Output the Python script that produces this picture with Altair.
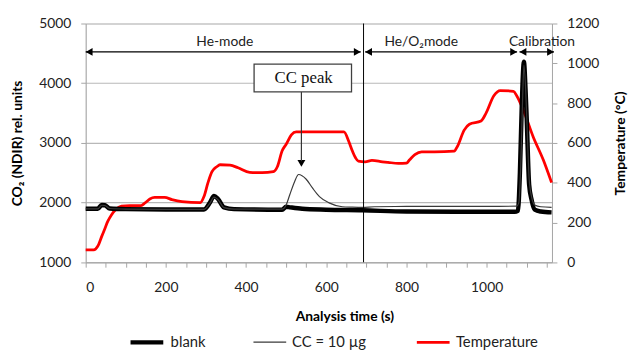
import altair as alt
import pandas as pd

# ---------------- data ----------------
blank_t = [0, 30, 40, 48, 60, 100, 200, 295, 310, 320, 330, 345, 370, 490, 500, 510, 540, 600, 690, 800,
           1000, 1070, 1078, 1083, 1088, 1093, 1097, 1100, 1106, 1112, 1120, 1135, 1162]
blank_v = [1895, 1895, 1960, 1955, 1900, 1890, 1885, 1885, 2000, 2110, 2060, 1920, 1890, 1880, 1930, 1920, 1895, 1880, 1870, 1850,
           1845, 1845, 1860, 2500, 3700, 4360, 3900, 3400, 2300, 2050, 1880, 1850, 1835]

cc_t = [0, 30, 40, 48, 60, 100, 200, 295, 310, 320, 330, 345, 370, 490, 500, 509, 521, 531, 550, 566, 583, 607, 640,
        665, 690, 720, 800, 1000, 1075, 1080, 1085, 1090, 1093, 1097, 1100, 1106, 1112, 1120, 1135, 1162]
cc_v = [1895, 1895, 1955, 1950, 1900, 1890, 1885, 1885, 1990, 2090, 2050, 1915, 1890, 1890, 1960, 2130, 2350, 2470, 2390, 2240, 2100, 1995, 1930,
        1922, 1918, 1930, 1935, 1935, 1940, 1990, 2600, 3800, 4300, 3950, 3450, 2400, 2100, 1960, 1930, 1920]

temp_t = [0, 20, 30, 40, 48, 55, 65, 75, 89, 110, 138, 148, 160, 172, 197, 215, 240, 286, 295, 305, 315, 327, 335,
          360, 380, 409, 440, 468, 478, 490, 500, 513, 525, 644, 656, 665, 673, 680, 697, 714, 740, 754, 780, 800,
          808, 821, 838, 870, 919, 927, 944, 957, 986, 998, 1018, 1034, 1067, 1075, 1092, 1116, 1141, 1162]
temp_v = [62, 62, 80, 130, 170, 205, 240, 265, 282, 285, 285, 298, 318, 326, 326, 315, 305, 300, 330, 400, 455, 480, 490,
          488, 475, 452, 450, 455, 480, 560, 593, 640, 655, 655, 608, 560, 525, 508, 505, 512, 505, 502, 497, 498,
          515, 541, 555, 555, 558, 582, 664, 694, 710, 747, 837, 863, 859, 837, 763, 631, 516, 400]

series_names = ["blank", "CC = 10 µg", "Temperature"]
series_colors = ["#000000", "#3a3a3a", "#ff0000"]
series_widths = [4.5, 1.2, 2.8]

# annotations (time in s, CO2 units)
mode_labels = ["He-mode", "He/O₂mode", "Calibration"]
mode_label_t = [347, 837, 1138]
mode_start = [0, 697, 1082]
mode_end = [686, 1076, 1168]
arrow_level = 4524
label_level = 4694
switch_time = [693]
box_t = [420, 663]
box_v = [3855, 4318]
peak_time = 538
peak_tip = 2600

FONT = "Lato"

# ---------------- tables ----------------
co2 = pd.concat([
    pd.DataFrame({"time": blank_t, "co2": blank_v, "series": series_names[0], "order": 2}),
    pd.DataFrame({"time": cc_t, "co2": cc_v, "series": series_names[1], "order": 1}),
])
temp = pd.DataFrame({"time": temp_t, "temp": temp_v, "series": series_names[2]})

arrows = pd.DataFrame({"time": mode_start, "time2": mode_end, "co2": arrow_level})
heads = pd.DataFrame({
    "time": [mode_start[0] + 8.6, mode_end[0] - 8.6, mode_start[1] + 8.6, mode_end[1] - 8.6,
             mode_start[2] + 8.6, mode_end[2] - 8.6, peak_time],
    "co2": [arrow_level] * 6 + [peak_tip + 57],
    "shape": ["triangle-left", "triangle-right"] * 3 + ["triangle-down"],
})
labels = pd.DataFrame({"time": mode_label_t, "co2": label_level, "text": mode_labels})
switch = pd.DataFrame({"time": switch_time})
box = pd.DataFrame({"time": [box_t[0]], "time2": [box_t[1]], "co2": [box_v[0]], "co2b": [box_v[1]]})
box_text = pd.DataFrame({"time": [(box_t[0] + box_t[1]) / 2 + 2], "co2": [(box_v[0] + box_v[1]) / 2], "text": ["CC peak"]})
leader = pd.DataFrame({"time": [peak_time], "co2": [box_v[0]], "co2b": [peak_tip + 90]})

# ---------------- encodings ----------------
x_enc = alt.X("time:Q", scale=alt.Scale(domain=[0, 1163], nice=False, zero=False),
              axis=alt.Axis(values=list(range(0, 1151, 50)), format="d",
                            labelExpr="datum.value % 200 == 0 ? datum.label : ''",
                            grid=False, domainColor="#a6a6a6", tickColor="#a6a6a6", tickSize=5,
                            labelPadding=14, labelFontSize=14, labelColor="#222222", labelFont=FONT,
                            title="Analysis time (s)", titleFont=FONT, titleFontSize=14, titleFontWeight="bold",
                            titleColor="#000000", titleX=262, titleY=55, titleBaseline="middle"))
y_co2 = alt.Y("co2:Q", scale=alt.Scale(domain=[1000, 5000], nice=False, zero=False),
              axis=alt.Axis(orient="left", values=[1000, 2000, 3000, 4000, 5000], format="d", grid=True,
                            gridColor="#b8b8b8", gridWidth=1.2, domainColor="#a6a6a6", tickColor="#a6a6a6",
                            tickSize=5, labelPadding=10, labelFontSize=14, labelColor="#222222", labelFont=FONT,
                            title="CO₂ (NDIR) rel. units", titleFont=FONT, titleFontSize=14,
                            titleFontWeight="bold", titleColor="#000000", titleX=-68.7, titleY=121,
                            titleAngle=270, titleBaseline="middle", titleAlign="center"))
y_temp = alt.Y("temp:Q", scale=alt.Scale(domain=[0, 1200], nice=False, zero=False),
               axis=alt.Axis(orient="right", values=list(range(0, 1201, 200)), format="d", grid=False,
                             domainColor="#a6a6a6", tickColor="#a6a6a6", tickSize=5, labelPadding=10,
                             labelFontSize=14, labelColor="#222222", labelFont=FONT,
                             title="Temperature (°C)", titleFont=FONT, titleFontSize=14,
                             titleFontWeight="bold", titleColor="#000000", titleX=69, titleY=121,
                             titleAngle=270, titleBaseline="middle", titleAlign="center"))

legend = alt.Legend(title=None, orient="none", legendX=43, legendY=304, direction="horizontal",
                    symbolType="stroke", symbolSize=1100, labelFont=FONT, labelFontSize=15,
                    labelColor="#222222", columnPadding=45, labelOffset=5, padding=0)
color_enc = alt.Color("series:N", scale=alt.Scale(domain=series_names, range=series_colors), legend=legend)
width_enc = alt.StrokeWidth("series:N",
                            scale=alt.Scale(type="ordinal", domain=series_names, range=series_widths),
                            legend=legend)

# ---------------- layers ----------------
temp_line = alt.Chart(temp).mark_line(interpolate="monotone").encode(
    x=x_enc, y=y_temp, color=color_enc, strokeWidth=width_enc)

co2_lines = alt.Chart(co2).mark_line(interpolate="monotone").encode(
    x=x_enc, y=y_co2, color=color_enc, strokeWidth=width_enc, order="order:Q",
    detail="series:N")

arrow_rules = alt.Chart(arrows).mark_rule(color="black", strokeWidth=1.2).encode(
    x=x_enc, x2="time2:Q", y=y_co2)
arrow_heads = alt.Chart(heads).mark_point(filled=True, color="black", size=64, opacity=1).encode(
    x=x_enc, y=y_co2, shape=alt.Shape("shape:N", scale=None, legend=None))
mode_text = alt.Chart(labels).mark_text(font=FONT, fontSize=14, color="#222222", baseline="middle").encode(
    x=x_enc, y=y_co2, text="text:N")
switch_rule = alt.Chart(switch).mark_rule(color="black", strokeWidth=1).encode(x=x_enc)
leader_rule = alt.Chart(leader).mark_rule(color="#333333", strokeWidth=1.2).encode(
    x=x_enc, y=y_co2, y2="co2b:Q")
box_rect = alt.Chart(box).mark_rect(fill="white", stroke="#404040", strokeWidth=1.3).encode(
    x=x_enc, x2="time2:Q", y=y_co2, y2="co2b:Q")
box_label = alt.Chart(box_text).mark_text(font="Liberation Serif", fontSize=17, color="#111111",
                                          baseline="middle").encode(x=x_enc, y=y_co2, text="text:N")

co2_group = alt.layer(co2_lines, switch_rule, arrow_rules, arrow_heads, mode_text,
                      leader_rule, box_rect, box_label)

chart = alt.layer(temp_line, co2_group).resolve_scale(y="independent").properties(
    width=472.3, height=241.8,
    autosize=alt.AutoSizeParams(type="none"),
    padding={"left": 78.7, "top": 13.5, "right": 77, "bottom": 87.7},
).configure_view(strokeWidth=0).configure(font=FONT)

chart.save("out.html", embed_options={"renderer": "svg", "actions": False})
